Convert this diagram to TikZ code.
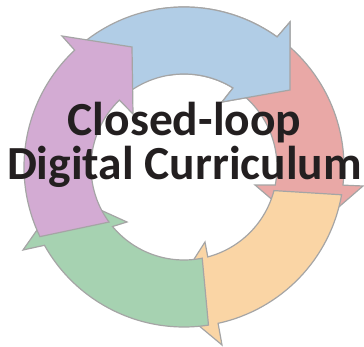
\documentclass[tikz,border=0pt]{standalone}
\usepackage{fontspec}
\setmainfont{Carlito}
\usepackage{tikz}

\definecolor{cycleblue}{RGB}{177,205,230}
\definecolor{cyclered}{RGB}{233,168,166}
\definecolor{cycleorange}{RGB}{250,213,165}
\definecolor{cyclegreen}{RGB}{166,210,177}
\definecolor{cyclepurple}{RGB}{211,171,211}
\definecolor{segedge}{RGB}{165,165,165}
\definecolor{titleink}{RGB}{35,31,32}

\newcommand{\bluepath}{(129.6:160) arc[start angle=129.6,end angle=54.4,radius=160]
  -- (106,145) -- (106,77) -- (38,65)
  -- (58.2:93) arc[start angle=58.2,end angle=130.5,radius=93] -- cycle}

\begin{document}
\begin{tikzpicture}[x=1pt,y=1pt,
    seg/.style={draw=segedge,line width=1.2pt,line join=miter},
    title/.style={font=\fontsize{47.5}{45}\selectfont\bfseries,text=titleink,inner sep=0pt,anchor=base}]
  \useasboundingbox (-184,-180) rectangle (180,167);
  \draw[seg,fill=cycleblue] \bluepath;
  \draw[seg,fill=cyclered] (50.9:160) arc[start angle=50.9,end angle=-6.5,radius=160]
    -- (179,-19) -- (126,-65) -- (71,-18)
    -- (-11.2:93) arc[start angle=-11.2,end angle=54.7,radius=93] -- cycle;
  \draw[seg,fill=cycleorange] (-10:160) arc[start angle=-10,end angle=-77.7,radius=160]
    -- (38,-178) -- (-16,-133) -- (21,-75)
    -- (-75.2:93) arc[start angle=-75.2,end angle=-14.7,radius=93] -- cycle;
  \draw[seg,fill=cyclegreen] (-81.2:160) arc[start angle=-81.2,end angle=-150.7,radius=160]
    -- (-161,-83) -- (-121,-26) -- (-57,-55)
    -- (-140.2:93) arc[start angle=-140.2,end angle=-78.7,radius=93] -- cycle;
  \draw[seg,fill=cyclepurple] (-154.2:160) arc[start angle=-154.2,end angle=-226.9,radius=160]
    -- (-122,131) -- (-52,120) -- (-51,53)
    -- (-226:93) arc[start angle=-226,end angle=-143.7,radius=93] -- cycle;
  \begin{scope}
    \clip (0,0) -- (10:200) arc[start angle=10,end angle=100,radius=200] -- cycle;
    \draw[seg,fill=cycleblue] \bluepath;
  \end{scope}
  \node[title] (topline) at (0.5,31) {Closed-loop};
  \node[title] (bottomline) at (0.5,-13) {Digital Curriculum};
\end{tikzpicture}
\end{document}
